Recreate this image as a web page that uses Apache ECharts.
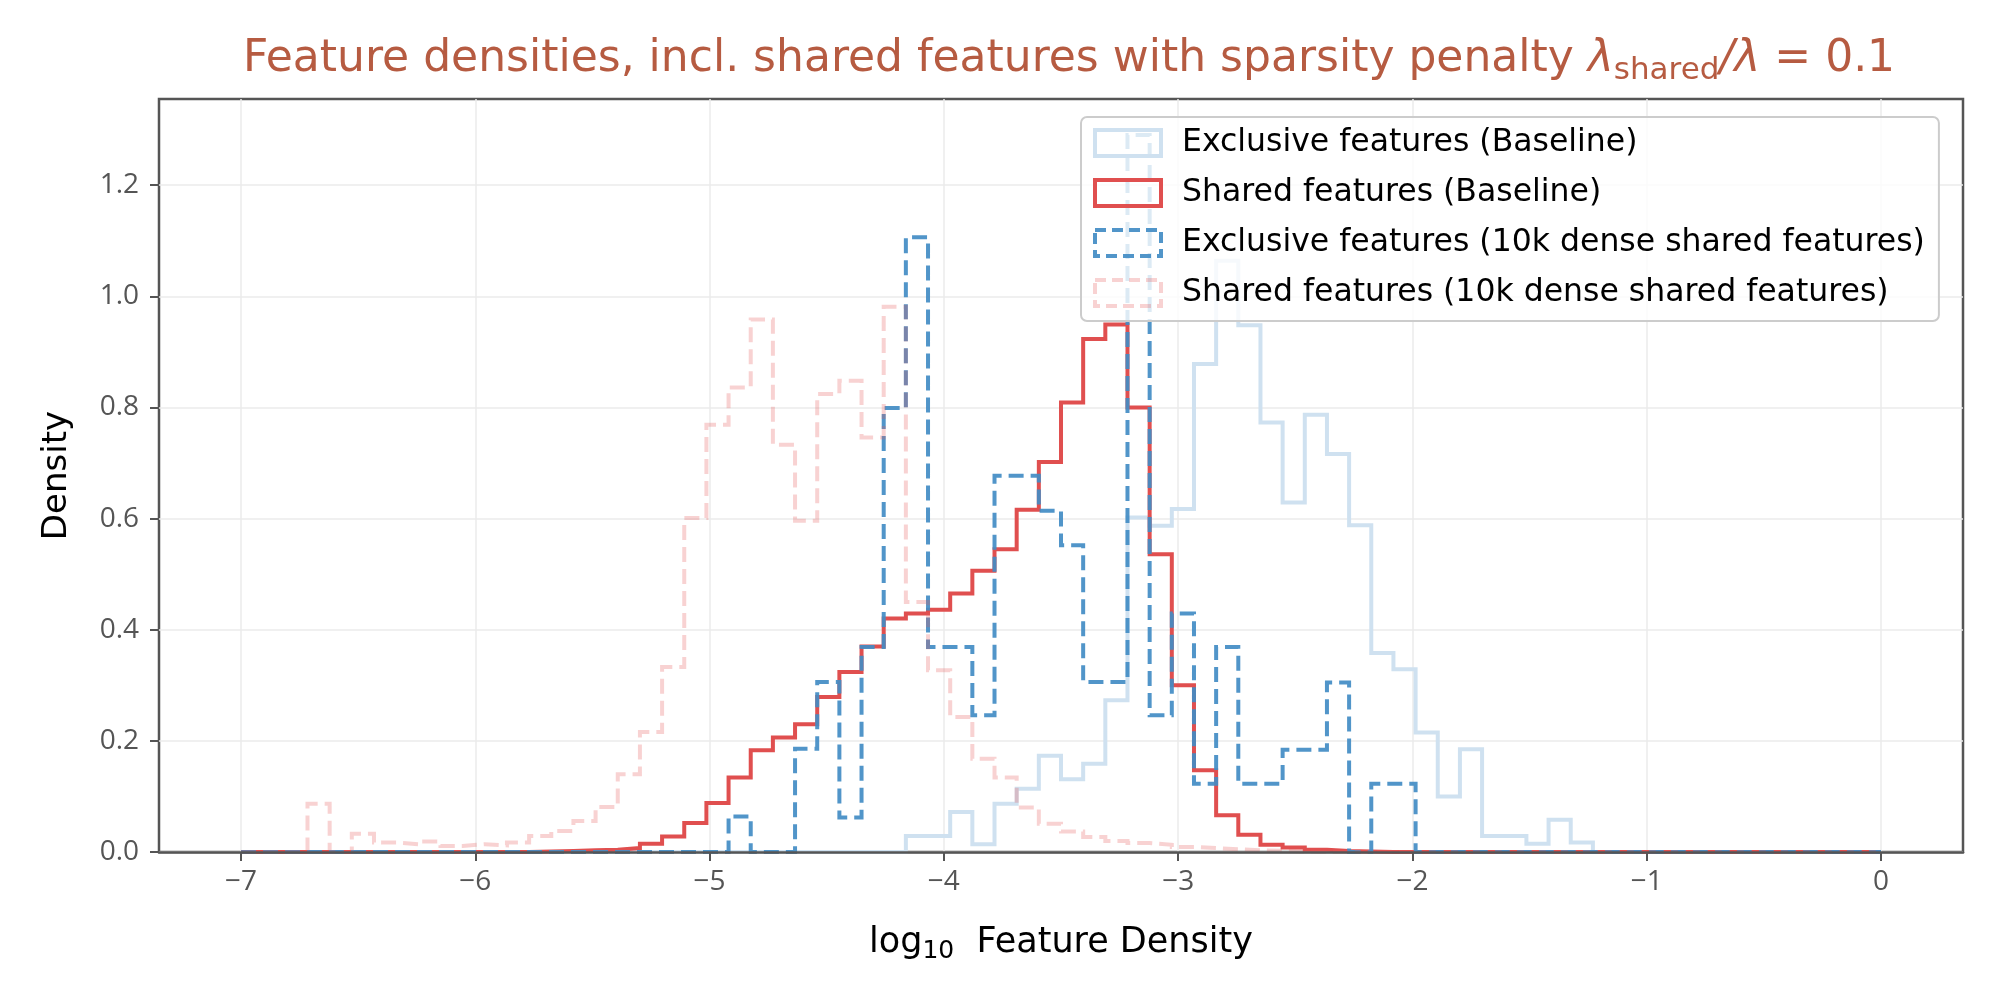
<!DOCTYPE html>
<html>
<head>
<meta charset="utf-8">
<title>Feature densities</title>
<script src="https://cdn.jsdelivr.net/npm/echarts@6/dist/echarts.min.js"></script>
<style>
    html, body { margin: 0; padding: 0; background: #fff; }
    #chart { width: 1999px; height: 1000px; }
</style>
</head>
<body>
<div id="chart"></div>
<script>
// histogram bins: 74 equal bins between -7 and 0 (log10 density)
var BIN_LO = -7;
var BIN_HI = 0;
var N_BINS = 74;

var xTicks = [-7, -6, -5, -4, -3, -2, -1, 0];
var yTicks = [0, 0.2, 0.4, 0.6, 0.8, 1.0, 1.2];

var seriesNames = [
    'Exclusive features (Baseline)',
    'Shared features (Baseline)',
    'Exclusive features (10k dense shared features)',
    'Shared features (10k dense shared features)'
];

// bin heights (density)
var exclusiveBaseline = [
    0, 0, 0, 0, 0, 0, 0, 0, 0, 0,
    0, 0, 0, 0, 0, 0, 0, 0, 0, 0,
    0, 0, 0, 0, 0, 0, 0, 0, 0, 0,
    0.029, 0.029, 0.072, 0.014, 0.087, 0.114, 0.173, 0.131, 0.159, 0.273,
    0.602, 0.587, 0.617, 0.878, 1.064, 0.948, 0.773, 0.629, 0.787, 0.716,
    0.588, 0.358, 0.329, 0.215, 0.100, 0.185, 0.029, 0.029, 0.015, 0.058,
    0.017, 0, 0, 0, 0, 0, 0, 0, 0, 0,
    0, 0, 0, 0
];

var sharedBaseline = [
    0, 0, 0, 0, 0, 0, 0, 0, 0, 0,
    0, 0, 0, 0.001, 0.002, 0.003, 0.004, 0.007, 0.015, 0.028,
    0.052, 0.088, 0.134, 0.183, 0.206, 0.230, 0.279, 0.324, 0.370, 0.420,
    0.429, 0.436, 0.465, 0.506, 0.545, 0.616, 0.702, 0.809, 0.923, 0.949,
    0.800, 0.536, 0.300, 0.147, 0.066, 0.031, 0.013, 0.008, 0.004, 0.002,
    0.001, 0, 0, 0, 0, 0, 0, 0, 0, 0,
    0, 0, 0, 0, 0, 0, 0, 0, 0, 0,
    0, 0, 0, 0
];

var exclusiveDense = [
    0, 0, 0, 0, 0, 0, 0, 0, 0, 0,
    0, 0, 0, 0, 0, 0, 0, 0, 0, 0,
    0, 0, 0.064, 0, 0, 0.186, 0.306, 0.062, 0.369, 0.799,
    1.106, 0.369, 0.369, 0.246, 0.677, 0.677, 0.614, 0.552, 0.306, 0.306,
    1.290, 0.246, 0.429, 0.123, 0.369, 0.123, 0.123, 0.184, 0.184, 0.305,
    0, 0.123, 0.123, 0, 0, 0, 0, 0, 0, 0,
    0, 0, 0, 0, 0, 0, 0, 0, 0, 0,
    0, 0, 0, 0
];

var sharedDense = [
    0, 0, 0, 0.087, 0, 0.033, 0.017, 0.014, 0.019, 0.011,
    0.014, 0.012, 0.017, 0.029, 0.038, 0.056, 0.081, 0.140, 0.216, 0.333,
    0.601, 0.769, 0.836, 0.958, 0.733, 0.596, 0.824, 0.848, 0.746, 0.981,
    0.450, 0.327, 0.243, 0.168, 0.134, 0.080, 0.051, 0.037, 0.027, 0.020,
    0.016, 0.013, 0.009, 0.007, 0.005, 0.003, 0.002, 0.001, 0, 0,
    0, 0, 0, 0, 0, 0, 0, 0, 0, 0,
    0, 0, 0, 0, 0, 0, 0, 0, 0, 0,
    0, 0, 0, 0
];

var FONT = '"DejaVu Sans", sans-serif';
var TICK_FONT = '"Open Sans", sans-serif';

var edges = [];
for (var k = 0; k <= N_BINS; k++) {
    edges.push(BIN_LO + (BIN_HI - BIN_LO) * k / N_BINS);
}

// outline of a step histogram (open at the bottom, like histtype='step')
function stepOutline(heights) {
    var pts = [[edges[0], 0]];
    heights.forEach(function (h, i) {
        pts.push([edges[i], h]);
        pts.push([edges[i + 1], h]);
    });
    pts.push([edges[heights.length], 0]);
    return pts;
}

var styles = [
    { color: '#cfe1f0', dash: 'solid' },
    { color: '#e04f4f', dash: 'solid' },
    { color: 'rgba(66,140,196,0.92)', dash: [15, 7] },
    { color: 'rgba(228,90,90,0.27)', dash: [15, 7] }
];
var values = [exclusiveBaseline, sharedBaseline, exclusiveDense, sharedDense];

var series = values.map(function (v, i) {
    return {
        name: seriesNames[i],
        type: 'line',
        xAxisIndex: 0,
        data: stepOutline(v),
        symbol: 'none',
        showSymbol: false,
        silent: true,
        z: 2,
        itemStyle: { color: styles[i].color },
        lineStyle: {
            color: styles[i].color,
            width: 4,
            type: styles[i].dash,
            join: 'miter'
        }
    };
});

var legendData = seriesNames.map(function (name, i) {
    return {
        name: name,
        icon: 'rect',
        itemStyle: {
            color: 'rgba(0,0,0,0)',
            borderColor: styles[i].color,
            borderWidth: 4,
            borderType: styles[i].dash === 'solid' ? 'solid' : [11, 6]
        }
    };
});

var myChart = echarts.init(document.getElementById('chart'));

var option = {
    animation: false,
    backgroundColor: '#ffffff',
    title: {
        text: 'Feature densities, incl. shared features with sparsity penalty {lam|λ}{sub|shared}{lam|/λ}{eq| = 0.1}',
        left: 1064,
        top: 28,
        textAlign: 'center',
        textStyle: {
            fontFamily: FONT,
            fontSize: 44,
            fontWeight: 'normal',
            color: '#b65b41',
            rich: {
                lam: { fontFamily: FONT, fontSize: 44, fontStyle: 'italic', color: '#b65b41' },
                sub: { fontFamily: FONT, fontSize: 31, color: '#b65b41', padding: [22, 0, 0, 0] },
                eq: { fontFamily: FONT, fontSize: 44, color: '#b65b41' }
            }
        }
    },
    legend: {
        orient: 'vertical',
        left: 1081,
        top: 117,
        z: 10,
        itemWidth: 66,
        itemHeight: 26,
        itemGap: 18,
        padding: [10, 14, 12, 12],
        backgroundColor: 'rgba(255,255,255,0.8)',
        borderColor: '#cccccc',
        borderWidth: 2,
        borderRadius: 6,
        selectedMode: false,
        textStyle: {
            fontFamily: FONT,
            fontSize: 31.5,
            color: '#000',
            lineHeight: 28,
            padding: [0, 0, 0, 16]
        },
        data: legendData
    },
    grid: {
        left: 159,
        right: 36,
        top: 99,
        bottom: 148,
        show: true,
        borderColor: '#555555',
        borderWidth: 2.5,
        backgroundColor: 'rgba(0,0,0,0)'
    },
    xAxis: [{
        // data axis: carries the vertical grid lines, drawn below the marks
        type: 'value',
        min: -7.35,
        max: 0.35,
        axisLine: { show: false, onZero: false },
        axisTick: { show: false, customValues: xTicks },
        axisLabel: { show: false, customValues: xTicks },
        splitLine: {
            show: true,
            lineStyle: { color: '#ebebeb', width: 1.5 }
        }
    }, {
        // same scale, drawn on top: spine, ticks, labels, title
        type: 'value',
        position: 'bottom',
        min: -7.35,
        max: 0.35,
        z: 10,
        name: 'log{sub|10}  Feature Density',
        nameLocation: 'middle',
        nameGap: 69,
        nameTextStyle: {
            fontFamily: FONT,
            fontSize: 35,
            color: '#000',
            rich: {
                sub: { fontFamily: FONT, fontSize: 25, color: '#000', padding: [18, 0, 0, 0] }
            }
        },
        axisLine: { show: true, onZero: false, lineStyle: { color: '#555555', width: 2.5 } },
        axisTick: {
            show: true,
            length: 9,
            customValues: xTicks,
            lineStyle: { color: '#555555', width: 2 }
        },
        axisLabel: {
            customValues: xTicks,
            margin: 16,
            fontFamily: TICK_FONT,
            fontSize: 28,
            color: '#555555',
            formatter: function (v) {
                return v < 0 ? '\u2212' + Math.abs(v) : String(v);
            }
        },
        splitLine: { show: false }
    }],
    yAxis: {
        type: 'value',
        min: 0,
        max: 1.355,
        name: 'Density',
        nameLocation: 'middle',
        nameGap: 85,
        nameTextStyle: {
            fontFamily: FONT,
            fontSize: 34,
            color: '#000'
        },
        axisLine: { show: false, onZero: false },
        axisTick: {
            show: true,
            length: 9,
            customValues: yTicks,
            lineStyle: { color: '#555555', width: 2 }
        },
        axisLabel: {
            customValues: yTicks,
            margin: 20,
            fontFamily: TICK_FONT,
            fontSize: 28,
            color: '#555555',
            formatter: function (v) {
                return v.toFixed(1);
            }
        },
        splitLine: {
            show: true,
            lineStyle: { color: '#ebebeb', width: 1.5 }
        }
    },
    series: series
};

myChart.setOption(option);
</script>
</body>
</html>
